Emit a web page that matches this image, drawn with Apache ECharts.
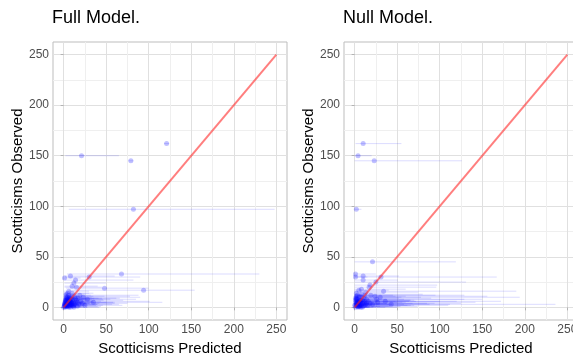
<!DOCTYPE html>
<html>
<head>
<meta charset="utf-8">
<script src="https://cdn.jsdelivr.net/npm/echarts@6/dist/echarts.min.js"></script>
<style>
  html, body { margin: 0; padding: 0; background: #fff; }
  #chart { width: 573px; height: 353px; }
</style>
</head>
<body>
<div id="chart"></div>
<script>
// panel titles
const panelTitles = ['Full Model.', 'Null Model.'];
const tickValues = [0, 50, 100, 150, 200, 250];
const identityLine = [[0, 0], [250, 250]];

// full model: predicted, observed and interval of the prediction
const fullPredicted = [21, 79, 121, 82, 68, 94, 48, 30, 1, 8, 14, 12, 10, 15, 6, 10, 35, 23,
  2, 4, 1, 3, 5, 6, 8, 2, 3, 5, 7, 9, 12, 15, 18, 20, 4, 6, 3, 8, 11, 13, 16, 25, 28,
  1, 0, 2, 4, 7, 10, 14, 9, 17, 22, 1, 5, 6, 3, 12, 19, 7,
  1, 2, 3, 4, 5, 6, 7, 8, 9, 10, 11, 13, 2, 3, 4, 5, 6, 7, 8, 9, 1, 2, 4, 6, 8, 10, 12, 14, 16, 3];
const fullObserved = [150, 145, 162, 97, 33, 17, 19, 30, 29, 31, 27, 24, 21, 20, 16, 14, 5, 10,
  0, 1, 2, 3, 2, 4, 3, 5, 7, 8, 6, 5, 4, 7, 3, 6, 10, 12, 13, 9, 8, 11, 1, 2, 8,
  1, 0, 3, 6, 1, 2, 5, 11, 9, 4, 4, 14, 0, 1, 0, 12, 10,
  3, 1, 5, 2, 4, 6, 2, 5, 3, 7, 1, 3, 6, 9, 8, 1, 7, 4, 0, 8, 2, 7, 3, 9, 6, 4, 2, 9, 5, 11];
const fullLower = [2, 76, 118, 6, 4, 6, 3, 2, 0, 1, 1, 1, 1, 1, 0, 1, 3, 2,
  0, 0, 0, 0, 0, 0, 0, 0, 0, 0, 0, 1, 1, 1, 1, 2, 0, 0, 0, 0, 1, 1, 1, 2, 2,
  0, 0, 0, 0, 0, 0, 1, 1, 1, 2, 0, 0, 0, 0, 0, 2, 0,
  0, 0, 0, 0, 0, 0, 0, 0, 0, 0, 1, 1, 0, 0, 0, 0, 0, 0, 0, 0, 0, 0, 0, 0, 0, 0, 1, 1, 1, 0];
const fullUpper = [65, 82, 124, 248, 230, 154, 100, 90, 20, 60, 82, 50, 40, 45, 30, 35, 116, 90,
  8, 15, 6, 20, 25, 30, 40, 12, 18, 28, 35, 50, 60, 70, 65, 101, 22, 32, 26, 45, 55, 78, 40, 69, 85,
  5, 3, 10, 16, 24, 38, 58, 48, 62, 75, 9, 30, 20, 11, 42, 88, 33,
  10, 9, 22, 18, 26, 34, 27, 36, 39, 47, 44, 57, 20, 36, 33, 21, 37, 31, 28, 46, 12, 30, 24, 41, 44, 42, 46, 66, 60, 35];

// null model
const nullPredicted = [10, 4, 23, 2, 21, 1, 1, 10, 10, 31, 25, 18, 17, 34, 5, 8, 24, 30, 21, 43,
  27, 19, 14, 12, 9, 6, 3, 1, 2, 4, 7, 11, 15, 5, 3, 2, 8, 13, 16, 1, 0, 2, 6, 10, 18, 12, 4, 7, 26, 36,
  1, 2, 3, 4, 5, 6, 7, 8, 9, 11, 13, 2, 3, 5, 6, 8, 1, 4, 10, 12, 3, 5, 7, 9, 2, 6, 14, 1];
const nullObserved = [162, 150, 145, 97, 45, 33, 30, 31, 27, 30, 25, 22, 20, 16, 17, 18, 11, 10, 3, 3,
  5, 12, 8, 6, 4, 2, 1, 0, 3, 5, 7, 9, 2, 10, 12, 14, 13, 15, 6, 7, 2, 8, 11, 1, 4, 12, 0, 3, 8, 6,
  2, 4, 6, 1, 3, 5, 0, 2, 7, 4, 3, 9, 8, 6, 1, 10, 5, 3, 6, 2, 4, 1, 5, 0, 11, 7, 4, 9];
const nullLower = [1, 0, 0, 0, 0, 0, 0, 0, 0, 0, 0, 0, 0, 0, 0, 0, 0, 0, 0, 0,
  0, 0, 0, 0, 0, 0, 0, 0, 0, 0, 0, 0, 0, 0, 0, 0, 0, 0, 0, 0, 0, 0, 0, 0, 0, 0, 0, 0, 0, 0,
  0, 0, 0, 0, 0, 0, 0, 0, 0, 0, 0, 0, 0, 0, 0, 0, 0, 0, 0, 0, 0, 0, 0, 0, 0, 0, 0, 0];
const nullUpper = [55, 20, 126, 8, 119, 25, 15, 52, 51, 167, 131, 97, 96, 190, 40, 60, 156, 194, 112, 236,
  142, 129, 129, 100, 85, 70, 40, 18, 30, 50, 65, 90, 110, 55, 45, 35, 80, 75, 120, 28, 12, 38, 60, 74, 125, 95, 22, 58, 150, 172,
  20, 34, 48, 30, 44, 56, 36, 62, 70, 68, 88, 52, 58, 64, 42, 78, 26, 40, 72, 66, 38, 54, 60, 50, 48, 66, 94, 24];

const pointColor = 'rgba(0, 0, 255, 0.3)';
const barColor = 'rgba(0, 0, 255, 0.14)';
const fontFamily = '"Liberation Sans", Arial, sans-serif';

function pointsOf(pred, obs) {
  return pred.map((p, i) => [p, obs[i]]);
}
function intervalsOf(lo, obs, hi) {
  return lo.map((l, i) => [l, obs[i], hi[i]]);
}

function renderInterval(params, api) {
  const y = api.value(1);
  const a = api.coord([api.value(0), y]);
  const b = api.coord([api.value(2), y]);
  return {
    type: 'line',
    shape: { x1: a[0], y1: a[1], x2: b[0], y2: b[1] },
    style: { stroke: barColor, lineWidth: 1 },
  };
}

const gridLefts = [53, 344];

function makeAxis(idx, name, isX) {
  return {
    type: 'value',
    gridIndex: idx,
    min: -12.5,
    max: 262.5,
    name: name,
    nameLocation: 'middle',
    nameGap: isX ? 17 : 28,
    nameTextStyle: { color: '#000', fontSize: 15, fontFamily: fontFamily },
    axisLine: { show: false },
    axisTick: {
      show: true, length: 3, customValues: tickValues,
      lineStyle: { color: '#b3b3b3' },
    },
    axisLabel: {
      customValues: tickValues,
      color: '#4d4d4d', fontSize: 12, fontFamily: fontFamily,
      margin: 4,
    },
    splitLine: { show: true, lineStyle: { color: '#e0e0e0', width: 1 } },
    minorTick: { show: false, splitNumber: 2 },
    minorSplitLine: { show: true, lineStyle: { color: '#efefef', width: 1 } },
  };
}

const series = [];
const panels = [
  [fullPredicted, fullObserved, fullLower, fullUpper],
  [nullPredicted, nullObserved, nullLower, nullUpper],
];
panels.forEach(([pred, obs, lo, hi], i) => {
  series.push({
    type: 'custom',
    xAxisIndex: i, yAxisIndex: i,
    renderItem: renderInterval,
    encode: { x: [0, 2], y: 1 },
    data: intervalsOf(lo, obs, hi),
    silent: true, z: 2,
  });
  series.push({
    type: 'scatter',
    xAxisIndex: i, yAxisIndex: i,
    symbolSize: 5,
    itemStyle: { color: pointColor },
    data: pointsOf(pred, obs),
    silent: true, z: 3,
  });
  series.push({
    type: 'line',
    xAxisIndex: i, yAxisIndex: i,
    data: identityLine,
    showSymbol: false,
    lineStyle: { color: 'rgba(255, 40, 40, 0.6)', width: 2 },
    silent: true, z: 4,
  });
});

const chart = echarts.init(document.getElementById('chart'), null, { renderer: 'canvas' });
chart.setOption({
  animation: false,
  backgroundColor: '#fff',
  title: panelTitles.map((t, i) => ({
    text: t,
    left: gridLefts[i] - 1,
    top: 9,
    padding: 0,
    textStyle: { color: '#000', fontSize: 18, fontWeight: 'normal', fontFamily: fontFamily },
  })),
  grid: gridLefts.map((l) => ({
    left: l, top: 42, width: 234, height: 278,
    outerBoundsMode: 'none',
    show: true, borderColor: '#bdbdbd', borderWidth: 1, backgroundColor: '#fff',
  })),
  xAxis: [0, 1].map((i) => makeAxis(i, 'Scotticisms Predicted', true)),
  yAxis: [0, 1].map((i) => makeAxis(i, 'Scotticisms Observed', false)),
  series: series,
});
</script>
</body>
</html>
